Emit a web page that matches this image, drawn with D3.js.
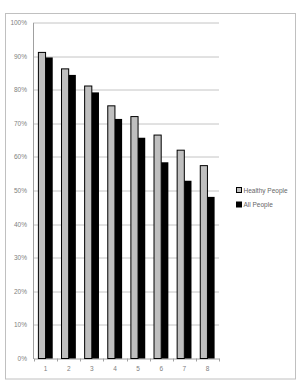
<!DOCTYPE html>
<html>
<head>
<meta charset="utf-8">
<script src="https://cdn.jsdelivr.net/npm/d3@7"></script>
<style>
  body { margin: 0; background: #fff; }
  text { font-family: Arial, "Liberation Sans", sans-serif; }
</style>
</head>
<body>
<div id="chart"></div>
<script>
const categories = ["1", "2", "3", "4", "5", "6", "7", "8"];
const seriesNames = ["Healthy People", "All People"];
const healthy = [0.911, 0.862, 0.811, 0.752, 0.720, 0.665, 0.620, 0.574];
const allPeople = [0.896, 0.844, 0.792, 0.713, 0.657, 0.584, 0.529, 0.481];
const yTicks = [0, 0.1, 0.2, 0.3, 0.4, 0.5, 0.6, 0.7, 0.8, 0.9, 1.0];

const W = 300, H = 388;
const margin = {top: 22.5, left: 33, right: 81, bottom: 29.5};
const width = W - margin.left - margin.right,
    height = H - margin.top - margin.bottom;

var svg = d3.select("#chart").append("svg")
    .attr("width", W)
    .attr("height", H);

// outer chart border
svg.append("rect")
    .attr("x", 5.5).attr("y", 13.5)
    .attr("width", 290).attr("height", 365.5)
    .attr("fill", "#fff")
    .attr("stroke", "#c0c0c0")
    .attr("stroke-width", 1);

var g = svg.append("g").attr("transform", "translate(" + margin.left + "," + margin.top + ")");

var x = d3.scaleBand()
    .domain(categories)
    .range([1, width]);

var y = d3.scaleLinear()
    .domain([0, 1])
    .range([height, 0]);

// gridlines
g.selectAll(".grid")
  .data(yTicks.slice(1))
  .enter().append("line")
    .attr("x1", 0).attr("x2", width)
    .attr("y1", function(d) { return Math.round(y(d)) + 0.5; })
    .attr("y2", function(d) { return Math.round(y(d)) + 0.5; })
    .attr("stroke", "#c4c4c4");

// y axis
var yAxis = g.append("g")
    .call(d3.axisLeft(y).tickValues(yTicks).tickFormat(d3.format(".0%")).tickSize(0).tickPadding(6));
yAxis.select(".domain").attr("stroke", "#a0a0a0");
yAxis.selectAll("text").attr("fill", "#808080").style("font-size", "6.5px");

// x axis
var xAxis = g.append("g")
    .attr("transform", "translate(0," + height + ")")
    .call(d3.axisBottom(x).tickSize(0).tickPadding(8));
xAxis.select(".domain").attr("stroke", "#a0a0a0");
xAxis.selectAll("text").attr("fill", "#808080").style("font-size", "6.5px");

// tick marks between categories
g.selectAll(".xtick")
  .data(d3.range(categories.length + 1))
  .enter().append("line")
    .attr("x1", function(i) { return Math.round(1 + i * x.step()) + 0.5; })
    .attr("x2", function(i) { return Math.round(1 + i * x.step()) + 0.5; })
    .attr("y1", height).attr("y2", height + 3)
    .attr("stroke", "#a0a0a0");

var barW = x.step() * 0.31;
var groupOff = (x.step() - 2 * barW) / 2;

var data = categories.map(function(c, i) { return {c: c, h: healthy[i], a: allPeople[i]}; });

// Healthy People bars
g.selectAll(".bar_h")
  .data(data)
  .enter().append("rect")
    .attr("class", "bar_h")
    .attr("x", function(d) { return x(d.c) + groupOff; })
    .attr("y", function(d) { return y(d.h); })
    .attr("width", barW)
    .attr("height", function(d) { return height - y(d.h); })
    .attr("fill", "#bfbfbf")
    .attr("stroke", "#000")
    .attr("stroke-width", 1);

// All People bars
g.selectAll(".bar_a")
  .data(data)
  .enter().append("rect")
    .attr("class", "bar_a")
    .attr("x", function(d) { return x(d.c) + groupOff + barW; })
    .attr("y", function(d) { return y(d.a); })
    .attr("width", barW)
    .attr("height", function(d) { return height - y(d.a); })
    .attr("fill", "#000");

// legend
var legend = svg.append("g").attr("transform", "translate(236,187)");
var li = legend.selectAll(".leg")
  .data(seriesNames)
  .enter().append("g")
    .attr("transform", function(d, i) { return "translate(0," + (i * 14.5) + ")"; });
li.append("rect")
    .attr("x", 0.5).attr("y", 0.5)
    .attr("width", 5).attr("height", 5)
    .attr("fill", function(d, i) { return i === 0 ? "#bfbfbf" : "#000"; })
    .attr("stroke", "#000");
li.append("text")
    .attr("x", 7.5).attr("y", 5.5)
    .attr("fill", "#666")
    .style("font-size", "6.5px")
    .text(function(d) { return d; });
</script>
</body>
</html>
